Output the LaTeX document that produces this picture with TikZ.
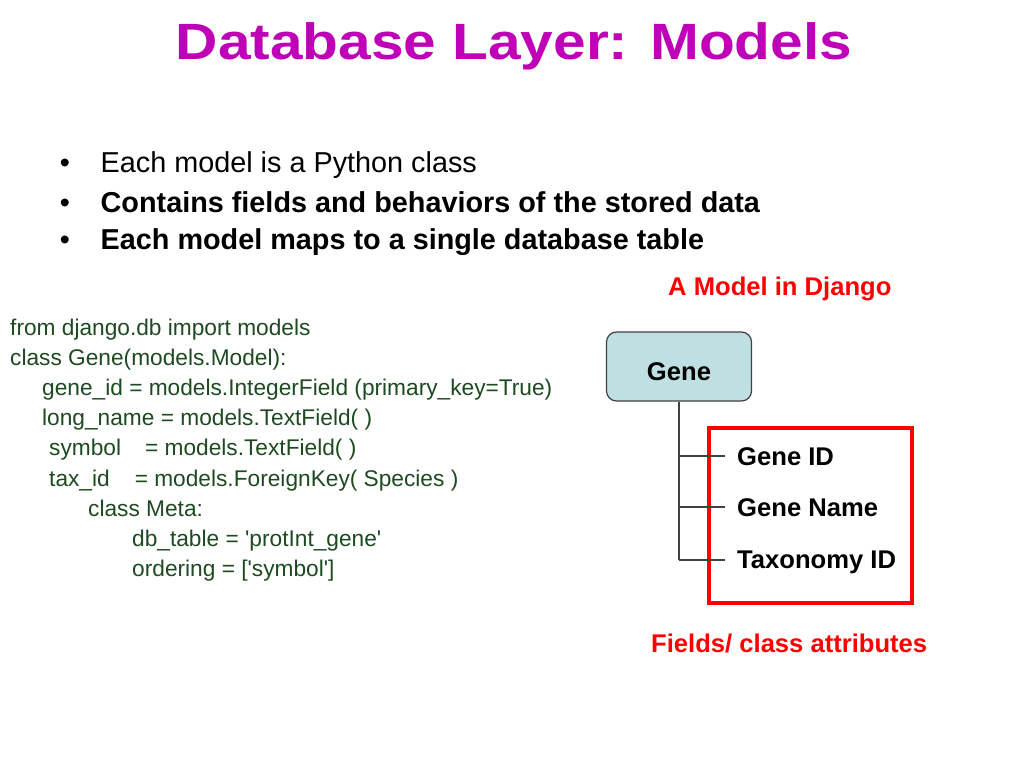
\documentclass[tikz,border=0pt]{standalone}
\usepackage{fontspec}
\setmainfont{Liberation Sans}
\definecolor{titlemagenta}{HTML}{C000B8}
\definecolor{codegreen}{HTML}{1E4A22}
\definecolor{genefill}{HTML}{BEE0E3}
\definecolor{treegray}{HTML}{404040}
\newcommand{\setfs}[1]{\fontsize{#1}{#1}\selectfont}

\begin{document}
\begin{tikzpicture}[x=1pt, y=-1pt,
    code/.style={anchor=base west, inner sep=0pt, text=codegreen, font=\setfs{22.7pt}},
    point/.style={anchor=base, inner sep=0pt, font=\setfs{28.8pt}},
    item/.style={anchor=base west, inner sep=0pt, font=\setfs{28.8pt}},
    attr/.style={anchor=base west, inner sep=0pt, font=\bfseries\setfs{25.6pt}},
    tree/.style={draw=treegray, line width=1.3pt}]
  \fill[white] (0,0) rectangle (1024,768);
  \useasboundingbox (0,0) rectangle (1024,768);

  \node[anchor=base, inner sep=0pt, text=titlemagenta, font=\bfseries\setfs{51pt}] (title) at (514,59.5) {\scalebox{1.149}[1]{Database Layer: Models}};

  \node[point] (p1) at (65,172) {\textbullet};
  \node[point] (p2) at (65,212) {\textbullet};
  \node[point] (p3) at (65,249) {\textbullet};
  \node[item] (b1) at (100.5,172) {Each model is a Python class};
  \node[item, font=\bfseries\setfs{28.8pt}] (b2) at (100.5,212) {Contains fields and behaviors of the stored data};
  \node[item, font=\bfseries\setfs{28.8pt}] (b3) at (100.5,249) {Each model maps to a single database table};

  \node[code] (c1) at (10,335) {from django.db import models};
  \node[code] (c2) at (10,365) {class Gene(models.Model):};
  \node[code] (c3) at (42,395) {gene\_id = models.IntegerField (primary\_key=True)};
  \node[code] (c4) at (42,425) {long\_name = models.TextField( )};
  \node[code] (c5) at (49,455) {symbol\hspace{24pt}= models.TextField( )};
  \node[code] (c6) at (49,486) {tax\_id\hspace{25pt}= models.ForeignKey( Species )};
  \node[code] (c7) at (88,516) {class Meta:};
  \node[code] (c8) at (132,546) {db\_table = \textquotesingle protInt\_gene\textquotesingle};
  \node[code] (c9) at (132,576) {ordering = [\textquotesingle symbol\textquotesingle]};

  \node[attr, text=red] (django) at (668,295) {A Model in Django};
  \node[draw=treegray, line width=1.2pt, fill=genefill, rounded corners=10pt, minimum width=145pt, minimum height=69pt, text height=27pt, text depth=0pt, font=\bfseries\setfs{25.6pt}] (gene) at (679,366.5) {Gene};
  \node[draw=red, line width=4pt, minimum width=203pt, minimum height=175pt] (fields) at (810.5,515.5) {};

  \node[attr] (f1) at (737,465) {Gene ID};
  \node[attr] (f2) at (737,516) {Gene Name};
  \node[attr] (f3) at (737,568) {Taxonomy ID};
  \node[attr, text=red] (caption) at (651,652) {Fields/ class attributes};

  \coordinate (j1) at (679,456);
  \coordinate (j2) at (679,507);
  \coordinate (j3) at (679,560);
  \draw[tree] (gene.south) -- (j3);
  \draw[tree, shorten >=12pt] (j1) -- (j1 -| f1.west);
  \draw[tree, shorten >=12pt] (j2) -- (j2 -| f2.west);
  \draw[tree, shorten >=12pt] (j3) -- (j3 -| f3.west);
\end{tikzpicture}
\end{document}
